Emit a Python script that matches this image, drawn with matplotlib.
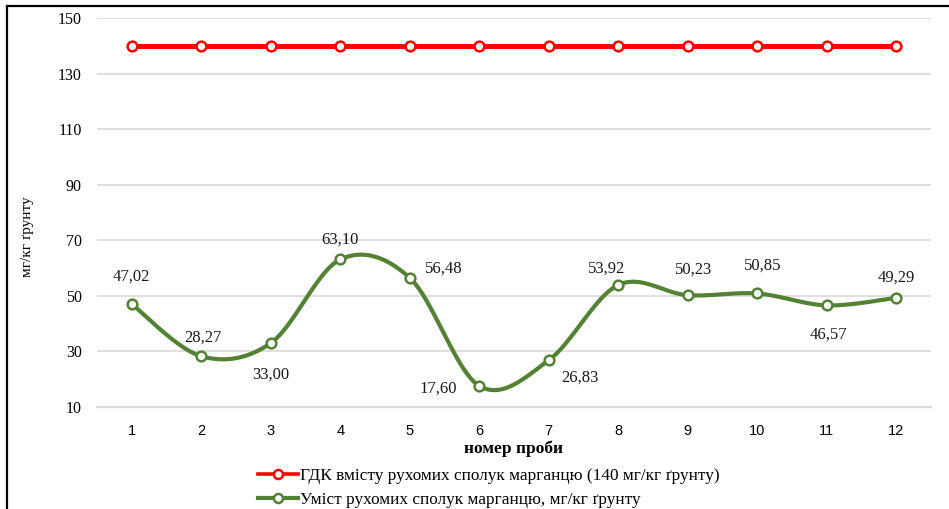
import numpy as np
import matplotlib
matplotlib.use("Agg")
import matplotlib.pyplot as plt
from matplotlib.lines import Line2D

# Sample numbers and measured values
samples = [1, 2, 3, 4, 5, 6, 7, 8, 9, 10, 11, 12]
mn_content = [47.02, 28.27, 33.00, 63.10, 56.48, 17.60, 26.83, 53.92, 50.23, 50.85, 46.57, 49.29]
mpc_value = [140] * 12
y_ticks = [10, 30, 50, 70, 90, 110, 130, 150]

label_mpc = "ГДК вмісту рухомих сполук марганцю (140 мг/кг ґрунту)"
label_mn = "Уміст рухомих сполук марганцю, мг/кг ґрунту"
x_title = "номер проби"
y_title = "мг/кг ґрунту"

# data-label offsets in pixels (dx, dy)
label_offsets = [(0, 27), (2, 19), (0, -32), (0, 20), (34, 9), (-41, -3),
                 (31, -17), (-12, 16), (6, 26), (5, 28), (2, -29), (0, 20)]

RED = "#FF0000"
GREEN = "#548235"
GRID = "#D9D9D9"
SERIF = ["Liberation Serif", "DejaVu Serif"]
SANS = ["Liberation Sans", "DejaVu Sans"]


def smooth_curve(xs, ys, n=40):
    """Catmull-Rom style Bezier smoothing through every point."""
    xs = np.asarray(xs, float)
    ys = np.asarray(ys, float)
    px = np.concatenate([[xs[0]], xs, [xs[-1]]])
    py = np.concatenate([[ys[0]], ys, [ys[-1]]])
    out_x, out_y = [], []
    t = np.linspace(0, 1, n)
    for i in range(1, len(px) - 2):
        p0 = np.array([px[i], py[i]])
        p3 = np.array([px[i + 1], py[i + 1]])
        c1 = p0 + (np.array([px[i + 1], py[i + 1]]) - np.array([px[i - 1], py[i - 1]])) / 6
        c2 = p3 - (np.array([px[i + 2], py[i + 2]]) - np.array([px[i], py[i]])) / 6
        b = ((1 - t) ** 3)[:, None] * p0 + (3 * (1 - t) ** 2 * t)[:, None] * c1 \
            + (3 * (1 - t) * t ** 2)[:, None] * c2 + (t ** 3)[:, None] * p3
        out_x.extend(b[:, 0])
        out_y.extend(b[:, 1])
    return np.array(out_x), np.array(out_y)


W, H = 949, 509
fig = plt.figure(figsize=(W / 100, H / 100), dpi=100)
ax = fig.add_axes([97 / W, 1 - 407 / H, (931 - 97) / W, (407 - 18) / H])

ax.set_xlim(0.5, 12.5)
ax.set_ylim(10, 150)
ax.set_yticks(y_ticks)
ax.set_xticks(samples)
ax.set_xticklabels([str(s) for s in samples], fontfamily=SANS, fontsize=10.5)
ax.set_yticklabels([str(v) for v in y_ticks], fontfamily=SERIF, fontsize=11.5)
ax.tick_params(length=0, pad=11)
ax.tick_params(axis="x", pad=12)
ax.grid(axis="y", color=GRID, linewidth=1.2)
ax.set_axisbelow(True)
for side in ["top", "right", "left"]:
    ax.spines[side].set_visible(False)
ax.spines["bottom"].set_color(GRID)
ax.spines["bottom"].set_linewidth(1.6)

# MPC level
ax.plot(samples, mpc_value, color=RED, linewidth=3.6, marker="o", markersize=7,
        markerfacecolor="white", markeredgecolor=RED, markeredgewidth=1.8, zorder=3)

# measured content, smoothed
sx, sy = smooth_curve(samples, mn_content)
ax.plot(sx, sy, color=GREEN, linewidth=3.0, solid_capstyle="round", zorder=3)
ax.plot(samples, mn_content, linestyle="none", marker="o", markersize=7,
        markerfacecolor="white", markeredgecolor=GREEN, markeredgewidth=1.8, zorder=4)

for x, v, (dx, dy) in zip(samples, mn_content, label_offsets):
    ax.annotate(f"{v:.2f}".replace(".", ","), (x, v), xytext=(dx, dy),
                textcoords="offset pixels", ha="center", va="center",
                fontfamily=SERIF, fontsize=12, color="#1a1a1a")

ax.set_xlabel(x_title, fontfamily=SERIF, fontsize=12.5, fontweight="bold", labelpad=2)
ax.set_ylabel(y_title, fontfamily=SERIF, fontsize=11)
ax.yaxis.set_label_coords(-63 / (931 - 97), (407 - 237) / (407 - 18))

handles = [
    Line2D([], [], color=RED, linewidth=2.6, marker="o", markersize=6.5,
           markerfacecolor="white", markeredgecolor=RED, markeredgewidth=1.8),
    Line2D([], [], color=GREEN, linewidth=3.0, marker="o", markersize=6.5,
           markerfacecolor="white", markeredgecolor=GREEN, markeredgewidth=1.8),
]
fig.legend(handles, [label_mpc, label_mn], loc="upper left",
           bbox_to_anchor=(258 / W, 1 - 468 / H), frameon=False,
           prop={"family": SERIF, "size": 12.4}, handlelength=2.3,
           handletextpad=0.15, labelspacing=0.45, borderaxespad=0, borderpad=0)

# outer frame lines on the left and top
fig.add_artist(Line2D([7 / W, 7 / W], [0, 1 - 6 / H], color="black", linewidth=1.6,
                      transform=fig.transFigure))
fig.add_artist(Line2D([7 / W, 1], [1 - 6 / H, 1 - 6 / H], color="black", linewidth=1.6,
                      transform=fig.transFigure))

fig.savefig("out.png", dpi=100)
